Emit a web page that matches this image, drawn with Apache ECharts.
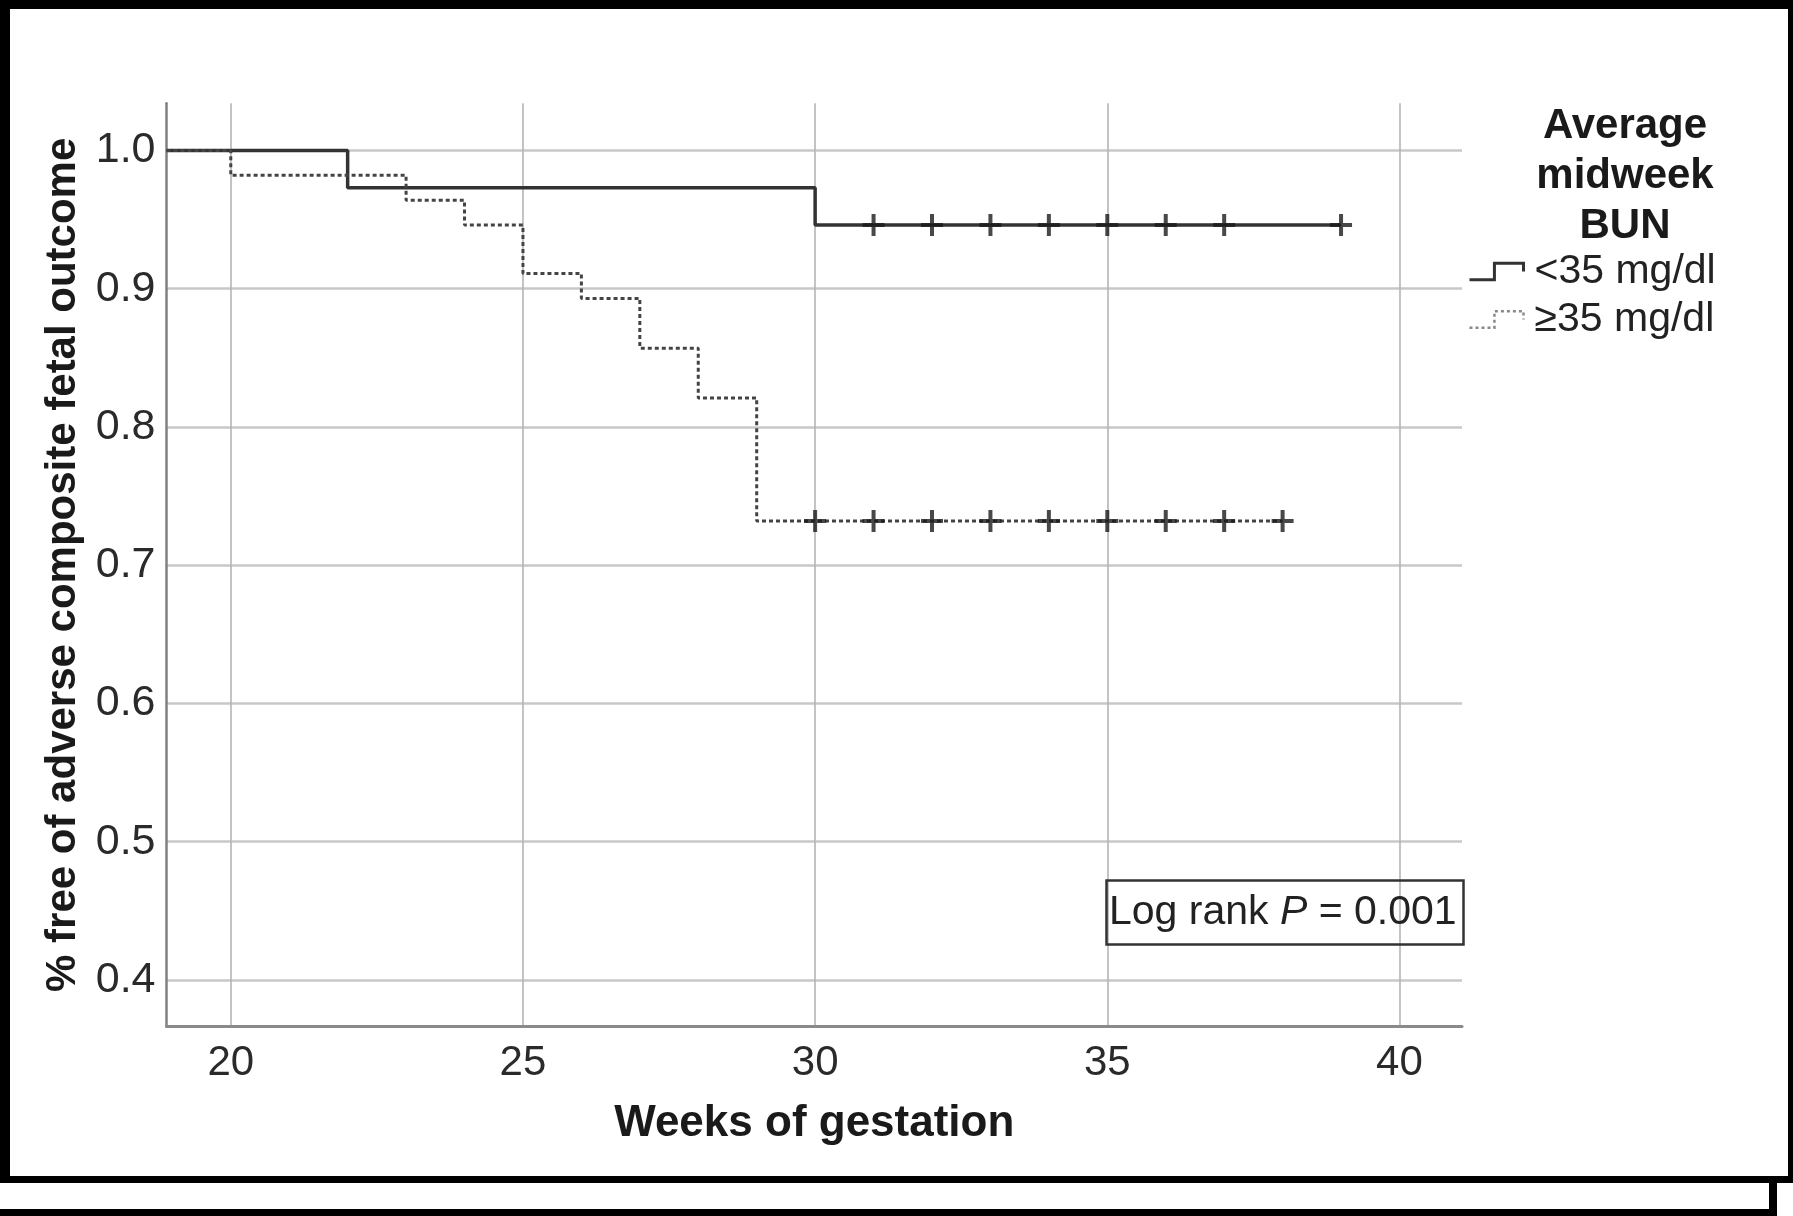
<!DOCTYPE html>
<html>
<head>
<meta charset="utf-8">
<script src="https://cdn.jsdelivr.net/npm/echarts@6/dist/echarts.min.js"></script>
<style>
html, body { margin: 0; padding: 0; background: #fff; width: 1793px; height: 1216px; overflow: hidden; }
#chart { position: absolute; left: 0; top: 0; width: 1793px; height: 1216px; }
.f { position: absolute; background: #000; pointer-events: none; }
</style>
</head>
<body>
<div id="chart"></div>
<div class="f" style="left:0;top:0;width:1793px;height:9px"></div>
<div class="f" style="left:0;top:0;width:10px;height:1183px"></div>
<div class="f" style="left:1788px;top:0;width:5px;height:1183px"></div>
<div class="f" style="left:0;top:1176px;width:1793px;height:7px"></div>
<div class="f" style="left:1769px;top:1183px;width:8px;height:33px"></div>
<div class="f" style="left:0;top:1209px;width:1777px;height:7px"></div>
<script>
// ---- data ----
const groupNames = ['<35 mg/dl', '\u226535 mg/dl'];
const weeksLow = [18.9, 22, 30, 39];
const survLow = [1.0, 0.973, 0.946, 0.946];
const weeksHigh = [18.9, 20, 23, 24, 25, 26, 27, 28, 29, 38];
const survHigh = [1.0, 0.982, 0.964, 0.946, 0.911, 0.893, 0.857, 0.821, 0.732, 0.732];
const censorWeeksLow = [31, 32, 33, 34, 35, 36, 37, 39];
const censorWeeksHigh = [30, 31, 32, 33, 34, 35, 36, 37, 38];
const xTicks = [20, 25, 30, 35, 40];
const yTicks = [0.4, 0.5, 0.6, 0.7, 0.8, 0.9, 1.0];

const FONT = '"Liberation Sans", Arial, sans-serif';

function pairs(xs, ys) { return xs.map((x, i) => [x, ys[i]]); }
function survAt(ws, ss, t) {
  let v = ss[0];
  for (let i = 0; i < ws.length; i++) { if (ws[i] <= t) v = ss[i]; }
  return v;
}
const plusPath = 'path://M9,0 H13 V9 H22 V13 H13 V22 H9 V13 H0 V9 H9 Z';
const stepIcon = 'path://M0,16 H24 V0 H52 V8';

const chart = echarts.init(document.getElementById('chart'), null, { renderer: 'canvas' });
const option = {
  animation: false,
  backgroundColor: '#ffffff',
  grid: { left: 166.5, top: 103.3, right: 331, bottom: 189.7, containLabel: false },
  title: [
    {
      text: 'Average\nmidweek\nBUN',
      left: 1620, top: 96, textAlign: 'center',
      textStyle: { fontFamily: FONT, fontWeight: 'bold', fontSize: 42, lineHeight: 50, color: '#1a1a1a' }
    },
    {
      text: '{n|Log rank }{i|P}{n| = 0.001}',
      left: 1106, top: 880,
      padding: [12, 7, 12, 3],
      borderColor: '#333', borderWidth: 2.5,
      textStyle: {
        fontWeight: 'normal',
        rich: {
          n: { fontFamily: FONT, fontSize: 41, fontWeight: 'normal', color: '#222' },
          i: { fontFamily: FONT, fontSize: 41, fontWeight: 'normal', fontStyle: 'italic', color: '#222' }
        }
      }
    }
  ],
  legend: {
    orient: 'vertical', left: 1463, top: 246,
    itemWidth: 54, itemHeight: 18, itemGap: 7,
    selectedMode: false,
    textStyle: { fontFamily: FONT, fontSize: 41, color: '#222', padding: [0, 0, 0, 6] },
    data: [
      { name: groupNames[0], icon: stepIcon, itemStyle: { color: 'transparent', borderColor: '#333', borderWidth: 3 } },
      { name: groupNames[1], icon: stepIcon, itemStyle: { color: 'transparent', borderColor: '#888', borderWidth: 2.5, borderType: [3, 3] } }
    ]
  },
  xAxis: {
    type: 'value', min: 18.9, max: 41.07,
    name: 'Weeks of gestation', nameLocation: 'middle', nameGap: 76,
    nameTextStyle: { fontFamily: FONT, fontWeight: 'bold', fontSize: 44, color: '#1a1a1a' },
    axisLine: { show: true, onZero: false, lineStyle: { color: '#8a8a8a', width: 3 } },
    axisTick: { show: false, customValues: xTicks },
    axisLabel: { customValues: xTicks, fontFamily: FONT, fontSize: 42, color: '#2a2a2a', margin: 16 },
    splitLine: { show: true, customValues: xTicks, lineStyle: { color: '#b5b5b5', width: 1.6 } }
  },
  yAxis: {
    type: 'value', min: 0.3665, max: 1.0341,
    name: '% free of adverse composite fetal outcome', nameLocation: 'middle', nameGap: 77, nameRotate: 90,
    nameTextStyle: { fontFamily: FONT, fontWeight: 'bold', fontSize: 42, color: '#1a1a1a' },
    axisLine: { show: true, lineStyle: { color: '#808080', width: 2.5 } },
    axisTick: { show: false, customValues: yTicks },
    axisLabel: { customValues: yTicks, fontFamily: FONT, fontSize: 43, color: '#2a2a2a', margin: 11,
      formatter: v => Number(v).toFixed(1) },
    splitLine: { show: true, customValues: yTicks, lineStyle: { color: '#c8c8c8', width: 2.5 } }
  },
  series: [
    {
      name: groupNames[0], type: 'line', step: 'end', showSymbol: false, symbol: 'none',
      data: pairs(weeksLow, survLow),
      lineStyle: { color: '#333', width: 3.5 }, itemStyle: { color: '#333' }, z: 3
    },
    {
      name: groupNames[1], type: 'line', step: 'end', showSymbol: false, symbol: 'none',
      data: pairs(weeksHigh, survHigh),
      lineStyle: { color: '#444', width: 3, type: [4, 3] }, itemStyle: { color: '#444' }, z: 3
    },
    {
      name: 'censorLow', type: 'scatter', symbol: plusPath, symbolSize: 22,
      data: censorWeeksLow.map(t => [t, survAt(weeksLow, survLow, t)]),
      itemStyle: { color: '#1a1a1a' }, z: 4, silent: true
    },
    {
      name: 'censorHigh', type: 'scatter', symbol: plusPath, symbolSize: 22,
      data: censorWeeksHigh.map(t => [t, survAt(weeksHigh, survHigh, t)]),
      itemStyle: { color: '#1a1a1a' }, z: 4, silent: true
    }
  ]
};
chart.setOption(option);
</script>
</body>
</html>
